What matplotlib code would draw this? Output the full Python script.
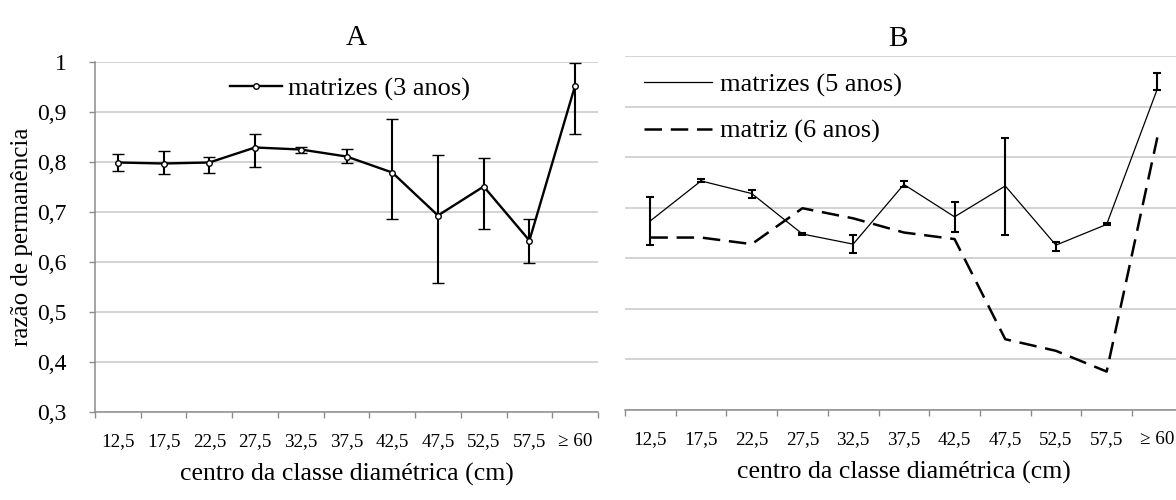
import matplotlib
matplotlib.use('Agg')
import matplotlib.pyplot as plt
from matplotlib.lines import Line2D
import numpy as np

plt.rcParams['font.family'] = ['Liberation Serif', 'DejaVu Serif']

# classes diametricas (cm)
classes = ['12,5', '17,5', '22,5', '27,5', '32,5', '37,5',
           '42,5', '47,5', '52,5', '57,5', '\u2265 60']

# A - matrizes (3 anos): media e limites das barras de erro
perm_3anos = [0.799, 0.797, 0.799, 0.829, 0.825, 0.811, 0.779, 0.693, 0.751, 0.643, 0.953]
sup_3anos = [0.817, 0.823, 0.810, 0.856, 0.830, 0.827, 0.886, 0.814, 0.808, 0.687, 0.999]
inf_3anos = [0.783, 0.776, 0.779, 0.791, 0.819, 0.799, 0.687, 0.559, 0.666, 0.599, 0.856]

# B - matrizes (5 anos) com barras de erro, matriz (6 anos) sem
perm_5anos = [0.674, 0.753, 0.728, 0.648, 0.628, 0.746, 0.682, 0.743, 0.626, 0.667, 0.935]
sup_5anos = [0.722, 0.757, 0.736, 0.650, 0.646, 0.753, 0.711, 0.838, 0.632, 0.669, 0.967]
inf_5anos = [0.626, 0.750, 0.720, 0.646, 0.610, 0.740, 0.651, 0.647, 0.615, 0.665, 0.933]
perm_6anos = [0.641, 0.641, 0.628, 0.699, 0.679, 0.651, 0.638, 0.440, 0.417, 0.376, 0.839]

yticks = [0.3, 0.4, 0.5, 0.6, 0.7, 0.8, 0.9, 1.0]
ytick_labels = ['0,3', '0,4', '0,5', '0,6', '0,7', '0,8', '0,9', '1']

W, H = 1176, 500
GRID = '#c8c8c8'
SPINE = '#8c8c8c'
DASH = (0, (7, 3.5))


def yerr(val, inf, sup):
    val = np.array(val)
    return [val - np.array(inf), np.array(sup) - val]


def setup_axis(ax):
    x = np.arange(len(classes))
    ax.set_xlim(-0.5, len(classes) - 0.5)
    ax.set_ylim(0.3, 1.0)
    ax.set_xticks(np.arange(len(classes) + 1) - 0.5)
    ax.set_xticklabels([])
    ax.set_xticks(x, minor=True)
    ax.set_xticklabels(classes, minor=True, fontsize=13.8)
    ax.tick_params(axis='x', which='major', direction='out', length=4.5,
                   width=1, color=SPINE)
    ax.tick_params(axis='x', which='minor', length=0, pad=15)
    ax.set_yticks(yticks)
    ax.yaxis.grid(True, color=GRID, lw=1.1)
    ax.set_axisbelow(True)
    for s in ['top', 'right']:
        ax.spines[s].set_visible(False)
    ax.spines['bottom'].set_color(SPINE)
    ax.spines['left'].set_color(SPINE)
    ax.spines['bottom'].set_linewidth(1.1)
    ax.spines['left'].set_linewidth(1.1)
    ax.set_xlabel('centro da classe diamétrica (cm)', fontsize=18.5, labelpad=9.5)
    return x


fig = plt.figure(figsize=(W / 100, H / 100), dpi=100)

# painel A
axA = fig.add_axes([95 / W, 1 - 412 / H, 503 / W, 350 / H])
x = setup_axis(axA)
axA.set_yticklabels(ytick_labels, fontsize=17)
axA.tick_params(axis='y', direction='out', length=4.5, width=1, color=SPINE, pad=16)
axA.errorbar(x, perm_3anos, yerr=yerr(perm_3anos, inf_3anos, sup_3anos),
             color='black', lw=1.7, elinewidth=1.5, capsize=4, capthick=1.5,
             marker='o', ms=4, mfc='white', mec='black', mew=1)
axA.set_ylabel('razão de permanência', fontsize=18, labelpad=3)
axA.set_title('A', fontsize=21, x=0.52, pad=12)
hA = [Line2D([], [], color='black', lw=1.7, marker='o', ms=4,
             mfc='white', mec='black', mew=1)]
axA.legend(hA, ['matrizes (3 anos)'], loc='upper left',
           bbox_to_anchor=(0.268, 0.958), frameon=False, fontsize=19,
           handlelength=1.97, handletextpad=0.23, borderpad=0, borderaxespad=0)

# painel B
axB = fig.add_axes([625 / W, 1 - 410 / H, 557.7 / W, 354 / H])
x = setup_axis(axB)
axB.set_yticklabels([])
axB.tick_params(axis='y', length=0)
axB.spines['left'].set_visible(False)
axB.errorbar(x, perm_5anos, yerr=yerr(perm_5anos, inf_5anos, sup_5anos),
             color='black', lw=0.9, elinewidth=1.5, capsize=3, capthick=1.5)
axB.plot(x, perm_6anos, color='black', lw=1.8, ls=DASH)
axB.set_title('B', fontsize=21, x=0.49, pad=7.5)
hB = [Line2D([], [], color='black', lw=0.9),
      Line2D([], [], color='black', lw=1.8, ls=DASH)]
axB.legend(hB, ['matrizes (5 anos)', 'matriz (6 anos)'], loc='upper left',
           bbox_to_anchor=(0.034, 0.953), frameon=False, fontsize=19,
           handlelength=2.58, handletextpad=0.3, labelspacing=0.87,
           borderpad=0, borderaxespad=0)

fig.savefig('out.png', dpi=100)
